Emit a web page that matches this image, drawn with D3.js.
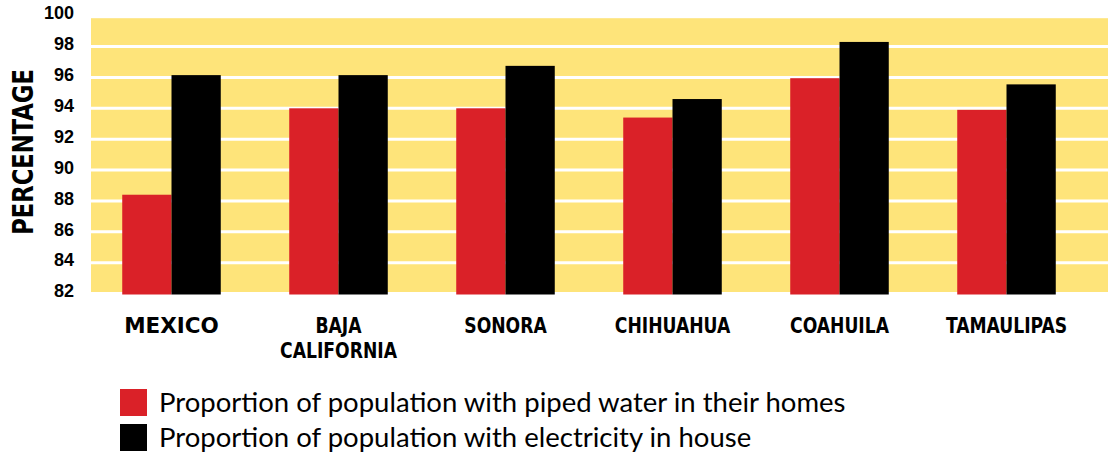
<!DOCTYPE html>
<html>
<head>
<meta charset="utf-8">
<script src="https://cdn.jsdelivr.net/npm/d3@7"></script>
<style>
  body { margin: 0; background: #fff; }
  svg { display: block; }
</style>
</head>
<body>
<div id="chart"></div>
<script>
// Data
const states = ["MEXICO", "BAJA CALIFORNIA", "SONORA", "CHIHUAHUA", "COAHUILA", "TAMAULIPAS"];
const pipedWater = [88.4, 94.0, 94.0, 93.4, 95.95, 93.9];
const electricity = [96.15, 96.15, 96.75, 94.6, 98.3, 95.55];
const yTicks = [82, 84, 86, 88, 90, 92, 94, 96, 98, 100];
const seriesNames = [
  "Proportion of population with piped water in their homes",
  "Proportion of population with electricity in house",
];
const seriesColors = ["#da2128", "#000000"];

const width = 1108, height = 455;
const plotLeft = 91, plotRight = 1108;
const condensed = "'Liberation Sans Narrow', 'DejaVu Sans Condensed', 'DejaVu Sans', sans-serif";

const svg = d3.select("#chart").append("svg")
  .attr("width", width)
  .attr("height", height);

const y = d3.scaleLinear().domain([82, 100]).range([293.5, 15.7]);

const x = d3.scaleBand()
  .domain(states)
  .range([88, 1090])
  .paddingInner(0.41)
  .paddingOuter(0.205);

const xSub = d3.scaleBand()
  .domain([0, 1])
  .range([0, x.bandwidth()]);

// yellow plot background
svg.append("rect")
  .attr("x", plotLeft)
  .attr("y", y(100) + 2.5)
  .attr("width", plotRight - plotLeft)
  .attr("height", y(82) - 1.5 - (y(100) + 2.5))
  .attr("fill", "#fee47a");

// white gridlines
svg.append("g")
  .selectAll("line")
  .data(yTicks.filter((d) => d > 82 && d < 100))
  .enter()
  .append("line")
  .attr("x1", plotLeft)
  .attr("x2", plotRight)
  .attr("y1", (d) => y(d))
  .attr("y2", (d) => y(d))
  .attr("stroke", "#fff")
  .attr("stroke-width", 3);

// bars
const rows = states.map((s, i) => ({ state: s, values: [pipedWater[i], electricity[i]] }));

const groups = svg.append("g")
  .selectAll("g")
  .data(rows)
  .enter()
  .append("g")
  .attr("transform", (d) => `translate(${x(d.state)},0)`);

groups.selectAll("rect")
  .data((d) => d.values.map((v, k) => ({ k, v })))
  .enter()
  .append("rect")
  .attr("x", (d) => xSub(d.k))
  .attr("y", (d) => y(d.v))
  .attr("width", xSub.bandwidth())
  .attr("height", (d) => y(82) + 1 - y(d.v))
  .attr("fill", (d) => seriesColors[d.k]);

// y axis labels
const yAxis = svg.append("g")
  .attr("transform", "translate(74,-2.5)")
  .call(d3.axisLeft(y).tickValues(yTicks).tickSize(0).tickPadding(0));
yAxis.select(".domain").remove();
yAxis.selectAll("text")
  .attr("font-family", "'Liberation Sans', Arial, sans-serif")
  .attr("font-weight", "bold")
  .attr("font-size", 18)
  .attr("fill", "#000");

// x axis labels (squeezed a bit to look condensed)
const xAxis = svg.append("g")
  .attr("transform", "translate(0,333)")
  .call(d3.axisBottom(x).tickSize(0));
xAxis.select(".domain").remove();
xAxis.selectAll("text")
  .attr("y", 0)
  .attr("dy", 0)
  .attr("fill", "#000")
  .attr("font-weight", "bold")
  .attr("font-size", (d, i) => (i === 0 ? 21.5 : 21))
  .attr("font-family", (d, i) => (i === 0 ? "'DejaVu Sans', sans-serif" : condensed))
  .attr("transform", (d, i) => (i === 0 ? null : "scale(0.91,1)"))
  .each(function (d) {
    const words = d === "BAJA CALIFORNIA" ? ["BAJA", "CALIFORNIA"] : [d];
    const t = d3.select(this).text(null);
    words.forEach((w, j) => {
      t.append("tspan").attr("x", 0).attr("dy", j === 0 ? 0 : 25).text(w);
    });
  });

// y axis title
svg.append("text")
  .attr("transform", "translate(33,152) rotate(-90) scale(0.9,1)")
  .attr("text-anchor", "middle")
  .attr("font-family", condensed)
  .attr("font-weight", "bold")
  .attr("font-size", 28)
  .text("PERCENTAGE");

// legend
const legend = svg.append("g")
  .selectAll("g")
  .data(seriesNames)
  .enter()
  .append("g")
  .attr("transform", (d, i) => `translate(120,${389 + i * 35})`);

legend.append("rect")
  .attr("width", 27)
  .attr("height", 27)
  .attr("fill", (d, i) => seriesColors[i]);

legend.append("text")
  .attr("x", 39)
  .attr("y", 23)
  .attr("font-family", "Lato, sans-serif")
  .attr("font-size", 27.5)
  .attr("fill", "#000")
  .text((d) => d);
</script>
</body>
</html>
